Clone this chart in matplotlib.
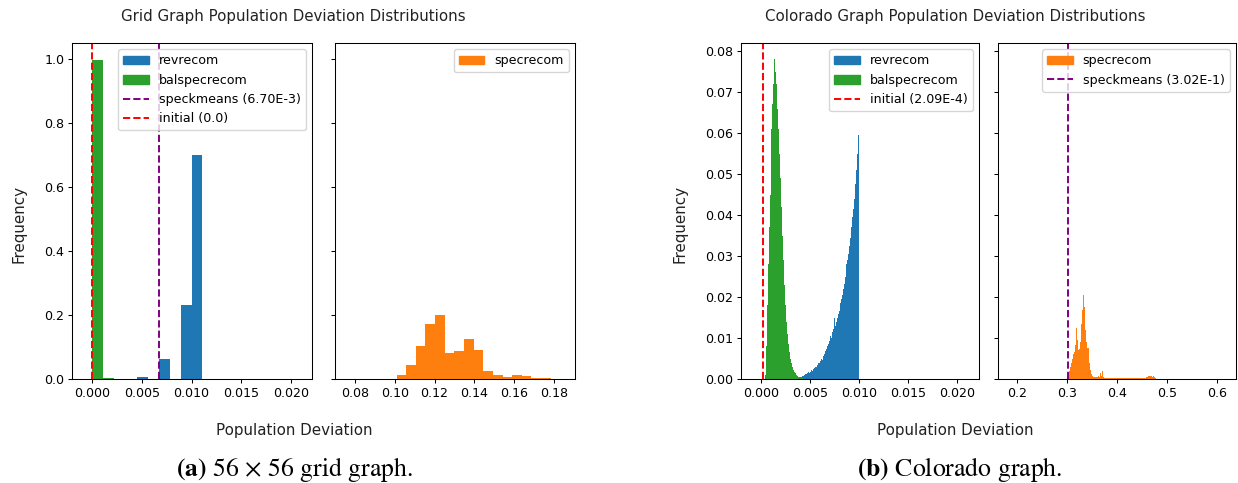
import numpy as np
import matplotlib
matplotlib.use("Agg")
import matplotlib.pyplot as plt
from matplotlib.patches import Patch
from matplotlib.lines import Line2D

# ---------------- data ----------------
# 56 x 56 grid graph: fraction of plans per population-deviation bin
grid_revrecom_edges = [0.0045, 0.0056, 0.0067, 0.0078, 0.0089, 0.0100, 0.0111]
grid_revrecom_freq = [0.006, 0.0, 0.062, 0.0, 0.232, 0.700]

grid_balspec_edges = [0.0000, 0.0011, 0.0022]
grid_balspec_freq = [0.997, 0.003]

grid_specrecom_lo, grid_specrecom_hi = 0.1009, 0.1783
grid_specrecom_freq = [0.012, 0.043, 0.103, 0.171, 0.200, 0.082, 0.089, 0.125,
                       0.092, 0.025, 0.012, 0.005, 0.012, 0.008, 0.004, 0.003]

grid_speckmeans = 6.70e-3
grid_initial = 0.0

# Colorado graph
co_bin = 0.0001
co_balspec_start = 0.0004
co_balspec_freq = [0.0010, 0.0080, 0.0180, 0.0280, 0.0370, 0.0450, 0.0530, 0.0610,
                   0.0670, 0.0720, 0.0780, 0.0750, 0.0720, 0.0660, 0.0610, 0.0550,
                   0.0490, 0.0420, 0.0350, 0.0290, 0.0230, 0.0180, 0.0140, 0.0110,
                   0.0085, 0.0065, 0.0050, 0.0038, 0.0030, 0.0023, 0.0018, 0.0014,
                   0.0010, 0.0008, 0.0006, 0.0005, 0.0004, 0.0003, 0.0002, 0.0001]

co_revrecom_start = 0.0038
co_revrecom_freq = [0.0002, 0.0003, 0.0004, 0.0006, 0.0008, 0.0007, 0.0010, 0.0012,
                    0.0011, 0.0014, 0.0016, 0.0015, 0.0018, 0.0021, 0.0020, 0.0024,
                    0.0027, 0.0030, 0.0029, 0.0035, 0.0040, 0.0038, 0.0044, 0.0050,
                    0.0047, 0.0055, 0.0062, 0.0068, 0.0072, 0.0080, 0.0086, 0.0092,
                    0.0090, 0.0105, 0.0100, 0.0115, 0.0122, 0.0148, 0.0130, 0.0140,
                    0.0150, 0.0158, 0.0165, 0.0185, 0.0195, 0.0205, 0.0220, 0.0232,
                    0.0250, 0.0280, 0.0290, 0.0305, 0.0325, 0.0345, 0.0370, 0.0395,
                    0.0415, 0.0440, 0.0475, 0.0510, 0.0550, 0.0595]

co_spec_bin = 0.002
co_specrecom_start = 0.302
co_specrecom_freq = [0.0010, 0.0020, 0.0030, 0.0040, 0.0050, 0.0060, 0.0065, 0.0083,
                     0.0124, 0.0095, 0.0070, 0.0072, 0.0090, 0.0135, 0.0168, 0.0205,
                     0.0175, 0.0120, 0.0090, 0.0075, 0.0075, 0.0040, 0.0022, 0.0012,
                     0.0008, 0.0005, 0.0004, 0.0005, 0.0004, 0.0006, 0.0008, 0.0006,
                     0.0014, 0.0008, 0.0020, 0.0006, 0.0003, 0.0003, 0.0002, 0.0003,
                     0.0002, 0.0002, 0.0003, 0.0002, 0.0002, 0.0003, 0.0002, 0.0002,
                     0.0003, 0.0002, 0.0003, 0.0002, 0.0002, 0.0003, 0.0002, 0.0002,
                     0.0003, 0.0002, 0.0002, 0.0003, 0.0002, 0.0002, 0.0003, 0.0002,
                     0.0002, 0.0003, 0.0002, 0.0002, 0.0003, 0.0002, 0.0002, 0.0003,
                     0.0002, 0.0002, 0.0003, 0.0002, 0.0002, 0.0003, 0.0005, 0.0006,
                     0.0007, 0.0008, 0.0007, 0.0008, 0.0006, 0.0007, 0.0005, 0.0002,
                     0.0001]

co_speckmeans = 3.02e-1
co_initial = 2.09e-4

# ---------------- styling ----------------
BLUE, GREEN, ORANGE = "#1f77b4", "#2ca02c", "#ff7f0e"
TICK_FS = 9.1
LEG_FS = 9.1
LABEL_FS = 10.9
TITLE_FS = 10.8

plt.rcParams["mathtext.fontset"] = "stix"
plt.rcParams["axes.linewidth"] = 0.75
plt.rcParams["xtick.major.width"] = 0.75
plt.rcParams["ytick.major.width"] = 0.75
plt.rcParams["xtick.major.size"] = 3.0
plt.rcParams["ytick.major.size"] = 3.0

W, H = 1238, 483
fig = plt.figure(figsize=(W / 100, H / 100), dpi=100)


def box(x0, x1, top=43, bottom=379):
    return [x0 / W, (H - bottom) / H, (x1 - x0) / W, (bottom - top) / H]


def edges_from(start, width, n):
    return start + width * np.arange(n + 1)


def draw_hist(ax, edges, freq, color):
    edges = np.asarray(edges, dtype=float)
    ax.hist(edges[:-1], bins=edges, weights=freq, color=color,
            histtype="stepfilled", linewidth=0)


def style(ax):
    ax.tick_params(labelsize=TICK_FS, pad=2.5)


# ---- (a) grid graph ----
a1 = fig.add_axes(box(72, 312))
a2 = fig.add_axes(box(335, 575), sharey=a1)

draw_hist(a1, grid_revrecom_edges, grid_revrecom_freq, BLUE)
draw_hist(a1, grid_balspec_edges, grid_balspec_freq, GREEN)
a1.axvline(grid_speckmeans, color="purple", ls="--", lw=1.4)
a1.axvline(grid_initial, color="red", ls="--", lw=1.4)
a1.set_xlim(-0.002, 0.0221)
a1.set_ylim(0, 1.05)
a1.set_xticks([0.0, 0.005, 0.010, 0.015, 0.020])
a1.set_xticklabels(["0.000", "0.005", "0.010", "0.015", "0.020"])
a1.set_yticks([0.0, 0.2, 0.4, 0.6, 0.8, 1.0])
a1.legend(handles=[Patch(color=BLUE, label="revrecom"),
                   Patch(color=GREEN, label="balspecrecom"),
                   Line2D([], [], color="purple", ls="--", lw=1.4,
                          label="speckmeans (6.70E-3)"),
                   Line2D([], [], color="red", ls="--", lw=1.4,
                          label=f"initial ({grid_initial})")],
          loc="upper right", fontsize=LEG_FS)

grid_spec_edges = np.linspace(grid_specrecom_lo, grid_specrecom_hi,
                              len(grid_specrecom_freq) + 1)
draw_hist(a2, grid_spec_edges, grid_specrecom_freq, ORANGE)
a2.set_xlim(0.070, 0.1905)
a2.set_xticks([0.08, 0.10, 0.12, 0.14, 0.16, 0.18])
a2.tick_params(labelleft=False)
a2.legend(handles=[Patch(color=ORANGE, label="specrecom")],
          loc="upper right", fontsize=LEG_FS)

# ---- (b) Colorado graph ----
b1 = fig.add_axes(box(741, 979))
b2 = fig.add_axes(box(998, 1236), sharey=b1)

draw_hist(b1, edges_from(co_revrecom_start, co_bin, len(co_revrecom_freq)),
          co_revrecom_freq, BLUE)
draw_hist(b1, edges_from(co_balspec_start, co_bin, len(co_balspec_freq)),
          co_balspec_freq, GREEN)
b1.axvline(co_initial, color="red", ls="--", lw=1.4)
b1.set_xlim(-0.002, 0.0222)
b1.set_ylim(0, 0.082)
b1.set_xticks([0.0, 0.005, 0.010, 0.015, 0.020])
b1.set_xticklabels(["0.000", "0.005", "0.010", "0.015", "0.020"])
b1.set_yticks(np.arange(0, 0.081, 0.01))
b1.set_yticklabels([f"{v:.2f}" for v in np.arange(0, 0.081, 0.01)])
b1.legend(handles=[Patch(color=BLUE, label="revrecom"),
                   Patch(color=GREEN, label="balspecrecom"),
                   Line2D([], [], color="red", ls="--", lw=1.4,
                          label="initial (2.09E-4)")],
          loc="upper right", fontsize=LEG_FS)

draw_hist(b2, edges_from(co_specrecom_start, co_spec_bin, len(co_specrecom_freq)),
          co_specrecom_freq, ORANGE)
b2.axvline(co_speckmeans, color="purple", ls="--", lw=1.4)
b2.set_xlim(0.161, 0.638)
b2.set_xticks([0.2, 0.3, 0.4, 0.5, 0.6])
b2.tick_params(labelleft=False)
b2.legend(handles=[Patch(color=ORANGE, label="specrecom"),
                   Line2D([], [], color="purple", ls="--", lw=1.4,
                          label="speckmeans (3.02E-1)")],
          loc="upper right", fontsize=LEG_FS)

for ax in (a1, a2, b1, b2):
    style(ax)

# ---- figure-level labels ----
txt = "#222222"
fig.text(293 / W, 1 - 17 / H, "Grid Graph Population Deviation Distributions",
         ha="center", va="center", fontsize=TITLE_FS, color=txt)
fig.text(955 / W, 1 - 17 / H, "Colorado Graph Population Deviation Distributions",
         ha="center", va="center", fontsize=TITLE_FS, color=txt)
for cx in (294.5, 955):
    fig.text(cx / W, 1 - 430 / H, "Population Deviation", ha="center",
             va="center", fontsize=LABEL_FS, color=txt)
for cx in (19, 680):
    fig.text(cx / W, 1 - 224 / H, "Frequency", ha="center", va="center",
             rotation=90, fontsize=LABEL_FS, color=txt)

fig.text(294 / W, 1 - 469 / H, r"$\mathbf{(a)}$ 56 × 56 grid graph.",
         ha="center", va="center", fontsize=18.5, family="STIXGeneral")
fig.text(960 / W, 1 - 469 / H, r"$\mathbf{(b)}$ Colorado graph.",
         ha="center", va="center", fontsize=18.5, family="STIXGeneral")

fig.savefig("out.png", dpi=100)
